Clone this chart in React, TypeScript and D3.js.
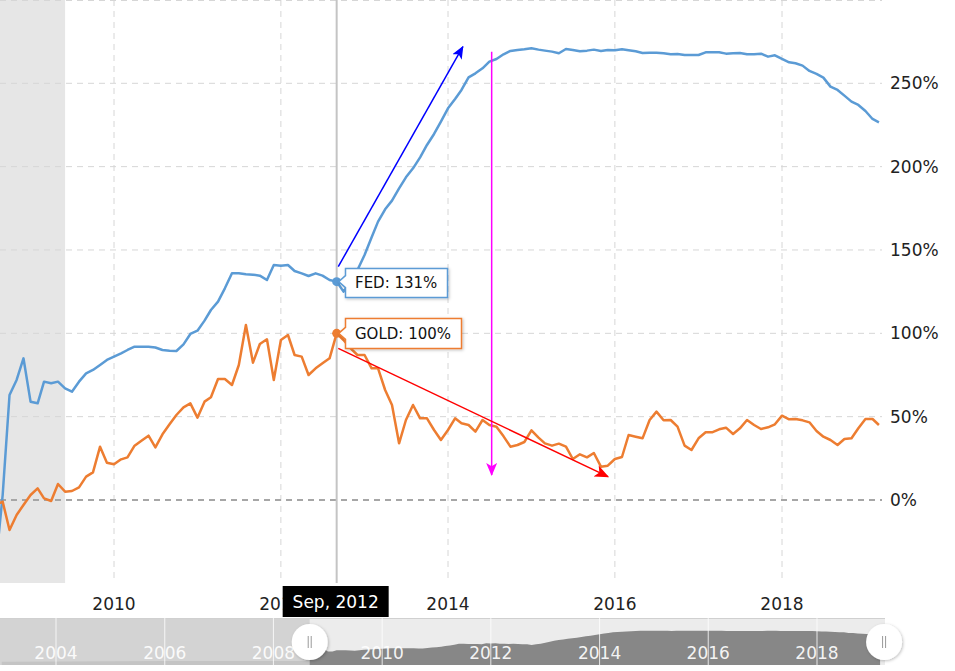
import * as d3 from 'd3'

// monthly series, Aug 2008 .. Mar 2019 (% change)
const firstMonth = new Date(2008, 7, 1)
const lastMonth = new Date(2019, 2, 1)

const fedValues = [
  -40, 3, 63, 72, 85,
  59, 58, 71, 70, 71, 67, 65, 71, 76, 78, 81, 84,
  86, 88, 90, 92, 92, 92, 91.5, 90, 89.6, 89.4, 93.4, 99.6,
  101.6, 107.6, 114, 119, 127, 136, 136, 135.4, 135.2, 134.6, 132, 141,
  140.6, 141, 137.4, 136, 134.4, 136, 134.6, 132, 131, 125, 131, 138,
  147, 157.6, 167, 174.4, 179.6, 187, 193.6, 199, 205.6, 213, 219.6, 227,
  235, 240.6, 246, 253.6, 256, 259, 263, 264.6, 267.4, 269.4, 270, 270.4,
  271, 270.2, 269.6, 269, 268, 270.6, 270, 269.2, 269.6, 270.2, 269.4, 270,
  269.8, 270.4, 269.8, 269.2, 268.2, 268.4, 268.4, 268, 267.4, 267.6, 267, 267,
  267, 268.6, 268.6, 268.6, 267.8, 268, 268.2, 267.4, 267.4, 267.8, 266, 266.8,
  264.6, 262.6, 262, 260.6, 257.4, 255.6, 253.4, 248, 246, 242.6, 239, 237,
  233.4, 228.6, 226.6,
]

const goldValues = [
  -3, -1, -18, -9, -3,
  3, 7, 1, -0.6, 9.6, 5, 5.4, 7.6, 14, 16.6, 32, 22.4,
  21.4, 24.4, 25.6, 32.6, 35.6, 38.6, 31.6, 39.4, 45.4, 51, 55.6, 58,
  49.4, 59, 61.6, 72.6, 72.6, 69, 81, 105, 82.4, 93.6, 96.4, 72,
  96, 99, 87, 86, 75, 79, 82, 85, 100, 96, 91, 87,
  87, 79, 79, 66, 57, 34, 48, 57, 49, 49, 42, 36,
  42, 49, 46, 45, 41, 48, 45, 44, 38.2, 32, 33, 34.8,
  41.8, 37.4, 34, 32.6, 33.8, 32, 24.6, 27.4, 25.6, 28.2, 20, 20.6,
  24.6, 25.8, 39, 38, 37, 48, 53, 47.8, 48, 44, 32.6, 30,
  37, 40.6, 40.6, 42.4, 43.4, 39.6, 43, 48, 45, 42.6, 43.6, 45.4,
  50.6, 48.4, 48.6, 47.8, 46.6, 41.4, 38, 36, 33, 36.6, 37, 43,
  48.6, 48.6, 45,
]

// older FED readings, only visible in the navigator
const navEarlyDates = ['2003-01', '2004-01', '2005-01', '2006-01', '2007-01', '2008-01']
const navEarlyValues = [-46, -44, -42, -40, -39, -38]

const yTicks = [0, 50, 100, 150, 200, 250, 300]
const yLabels = ['0%', '50%', '100%', '150%', '200%', '250%']

const hoverMonth = new Date(2012, 8, 1)
const hoverLabel = 'Sep, 2012'
const recessionEnd = new Date(2009, 5, 1)

// hand-drawn annotations: [date, value]
const blueArrow: [string, number][] = [['2012-09-08', 140], ['2014-03-07', 272]]
const magentaArrow: [string, number][] = [['2014-07-11', 269], ['2014-07-11', 15]]
const redArrow: [string, number][] = [['2012-09-08', 91], ['2015-12-02', 14]]

const FED_COLOR = '#5b9bd5'
const GOLD_COLOR = '#ed7d31'
const FONT = '"DejaVu Sans", Verdana, sans-serif'

interface Point {
  date: Date
  value: number
}

export default function App() {
  const width = 955
  const height = 671
  const plot = { left: 0, right: 882, top: 0, bottom: 583 }

  const months = d3.timeMonth.range(firstMonth, d3.timeMonth.offset(lastMonth, 1))
  const fed: Point[] = months.map((date, i) => ({ date, value: fedValues[i] }))
  const gold: Point[] = months.map((date, i) => ({ date, value: goldValues[i] }))

  const x = d3.scaleTime()
    .domain([new Date(2010, 0, 1), new Date(2018, 0, 1)])
    .range([114, 782])
  const y = d3.scaleLinear().domain([0, 250]).range([500, 83.3])

  const line = d3.line<Point>()
    .x(d => x(d.date))
    .y(d => y(d.value))

  const xStart = x.invert(plot.left)
  const xEnd = x.invert(plot.right)
  const xTicks = d3.timeYear.every(2)!.range(xStart, xEnd)
    .filter(d => d.getFullYear() % 2 === 0)

  // navigator
  const navX = d3.scaleTime()
    .domain([new Date(2004, 0, 1), new Date(2018, 0, 1)])
    .range([56, 817])
  const navY = d3.scaleLinear().domain([-80, 400]).range([665, 618])
  const parse = d3.timeParse('%Y-%m')
  const navData: Point[] = navEarlyDates
    .map((s, i) => ({ date: parse(s)!, value: navEarlyValues[i] }))
    .concat(fed)
  const navArea = d3.area<Point>()
    .x(d => navX(d.date))
    .y0(665)
    .y1(d => navY(d.value))
  const navTicks = d3.timeYear.every(2)!.range(new Date(2004, 0, 1), new Date(2019, 0, 2))
  const handleL = navX(months[1])
  const handleR = navX(xEnd) + 2

  const hx = x(hoverMonth)
  const hoverIdx = months.findIndex(m => +m === +hoverMonth)
  const fedY = y(fed[hoverIdx].value)
  const goldY = y(gold[hoverIdx].value)

  const pDate = d3.timeParse('%Y-%m-%d')
  const arrowPts = (a: [string, number][]) =>
    a.map(([d, v]) => [x(pDate(d)!), y(v)] as [number, number])
  const [b0, b1] = arrowPts(blueArrow)
  const [m0, m1] = arrowPts(magentaArrow)
  const [r0, r1] = arrowPts(redArrow)

  const callout = (bx: number, by: number, bw: number, bh: number, ax: number, ay: number) =>
    `M${bx},${by} L${bx + bw},${by} L${bx + bw},${by + bh} L${bx},${by + bh} ` +
    `L${bx},${ay + 6} L${ax + 2},${ay} L${bx},${ay - 6} Z`

  return (
    <div style={{ position: 'absolute', left: 0, top: 0 }}>
      <svg width={width} height={height} style={{ display: 'block', fontFamily: FONT }}>
        <defs>
          <clipPath id="plot-clip">
            <rect x={plot.left} y={plot.top} width={plot.right - plot.left} height={plot.bottom - plot.top} />
          </clipPath>
          <marker id="ah-blue" viewBox="0 0 12 10" refX="11" refY="5" markerWidth="13" markerHeight="11"
            markerUnits="userSpaceOnUse" orient="auto">
            <path d="M0,0 L12,5 L0,10 L3,5 Z" fill="#0000ff" />
          </marker>
          <marker id="ah-magenta" viewBox="0 0 12 10" refX="11" refY="5" markerWidth="15" markerHeight="11"
            markerUnits="userSpaceOnUse" orient="auto">
            <path d="M0,0 L12,5 L0,10 L3,5 Z" fill="#ff00ff" />
          </marker>
          <marker id="ah-red" viewBox="0 0 12 10" refX="11" refY="5" markerWidth="16" markerHeight="12"
            markerUnits="userSpaceOnUse" orient="auto">
            <path d="M0,0 L12,5 L0,10 L3,5 Z" fill="#ff0000" />
          </marker>
          <filter id="soft-shadow" x="-50%" y="-50%" width="200%" height="200%">
            <feDropShadow dx="1" dy="1" stdDeviation="1.5" floodColor="#000" floodOpacity="0.25" />
          </filter>
        </defs>

        <rect width={width} height={height} fill="#fff" />

        {/* recession band */}
        <rect x={plot.left} y={plot.top} width={x(recessionEnd) - plot.left}
          height={plot.bottom - plot.top} fill="#e6e6e6" />

        {/* grid */}
        {xTicks.map(t => (
          <line key={+t} x1={x(t)} x2={x(t)} y1={plot.top} y2={plot.bottom}
            stroke="#d6d6d6" strokeDasharray="6,5" />
        ))}
        {yTicks.map(t => (
          <line key={t} x1={plot.left} x2={plot.right} y1={Math.max(y(t), 0.5)} y2={Math.max(y(t), 0.5)}
            stroke={t === 0 ? '#a6a6a6' : '#d6d6d6'} strokeWidth={t === 0 ? 2 : 1}
            strokeDasharray="6,5" />
        ))}

        {/* y labels */}
        {yLabels.map((l, i) => (
          <text key={l} x={890} y={y(yTicks[i]) + 6} fontSize={17} fill="#222">{l}</text>
        ))}

        {/* x labels */}
        {xTicks.map(t => (
          <text key={+t} x={x(t)} y={610} fontSize={17} fill="#222" textAnchor="middle">
            {d3.timeFormat('%Y')(t)}
          </text>
        ))}

        {/* crosshair */}
        <line x1={hx} x2={hx} y1={plot.top} y2={plot.bottom} stroke="#c4c4c4" strokeWidth={2} />

        <g clipPath="url(#plot-clip)">
          <path d={line(fed) ?? ''} fill="none" stroke={FED_COLOR} strokeWidth={2.5} strokeLinejoin="round" />
          <path d={line(gold) ?? ''} fill="none" stroke={GOLD_COLOR} strokeWidth={2.5} strokeLinejoin="round" />
        </g>

        {/* annotations */}
        <line x1={b0[0]} y1={b0[1]} x2={b1[0]} y2={b1[1]} stroke="#0000ff" strokeWidth={1.5}
          markerEnd="url(#ah-blue)" />
        <line x1={m0[0]} y1={m0[1]} x2={m1[0]} y2={m1[1]} stroke="#ff00ff" strokeWidth={1.5}
          markerEnd="url(#ah-magenta)" />
        <line x1={r0[0]} y1={r0[1]} x2={r1[0]} y2={r1[1]} stroke="#ff0000" strokeWidth={1.5}
          markerEnd="url(#ah-red)" />

        {/* hover markers */}
        <circle cx={hx} cy={fedY} r={4.5} fill={FED_COLOR} />
        <circle cx={hx} cy={goldY} r={4.5} fill={GOLD_COLOR} />

        {/* tooltips */}
        <path d={callout(345.5, 268.5, 102, 29, hx, fedY)} fill="#fff" stroke={FED_COLOR}
          strokeWidth={1.5} filter="url(#soft-shadow)" />
        <text x={355} y={288} fontSize={15} fill="#111">FED: 131%</text>
        <path d={callout(345.5, 318.5, 116, 30, hx, goldY)} fill="#fff" stroke={GOLD_COLOR}
          strokeWidth={1.5} filter="url(#soft-shadow)" />
        <text x={355} y={339} fontSize={15} fill="#111">GOLD: 100%</text>

        {/* x crosshair label */}
        <rect x={hx - 54} y={586} width={106} height={31} fill="#000" />
        <text x={hx - 1} y={608} fontSize={17} fill="#fff" textAnchor="middle">{hoverLabel}</text>

        {/* navigator */}
        <g>
          <rect x={0} y={618} width={885} height={47} fill="#ececec" />
          <path d={navArea(navData) ?? ''} fill="#878787" />
          <rect x={0} y={618} width={handleL} height={47} fill="rgba(207,207,207,0.85)" />
          <line x1={0} x2={885} y1={618.5} y2={618.5} stroke="#d0d0d0" />
          {navTicks.map(t => (
            <line key={+t} x1={navX(t)} x2={navX(t)} y1={618} y2={665} stroke="#fff" strokeOpacity={0.8} />
          ))}
          {navTicks.map(t => (
            <text key={+t} x={navX(t)} y={659} fontSize={17} fill="#fff" fillOpacity={0.92} textAnchor="middle">
              {d3.timeFormat('%Y')(t)}
            </text>
          ))}
          {[handleL, handleR].map(hxn => (
            <g key={hxn}>
              <circle cx={hxn} cy={642} r={18} fill="#fff" filter="url(#soft-shadow)" />
              <line x1={hxn - 1.5} x2={hxn - 1.5} y1={636} y2={648} stroke="#999" />
              <line x1={hxn + 1.5} x2={hxn + 1.5} y1={636} y2={648} stroke="#999" />
            </g>
          ))}
        </g>
      </svg>
    </div>
  )
}
